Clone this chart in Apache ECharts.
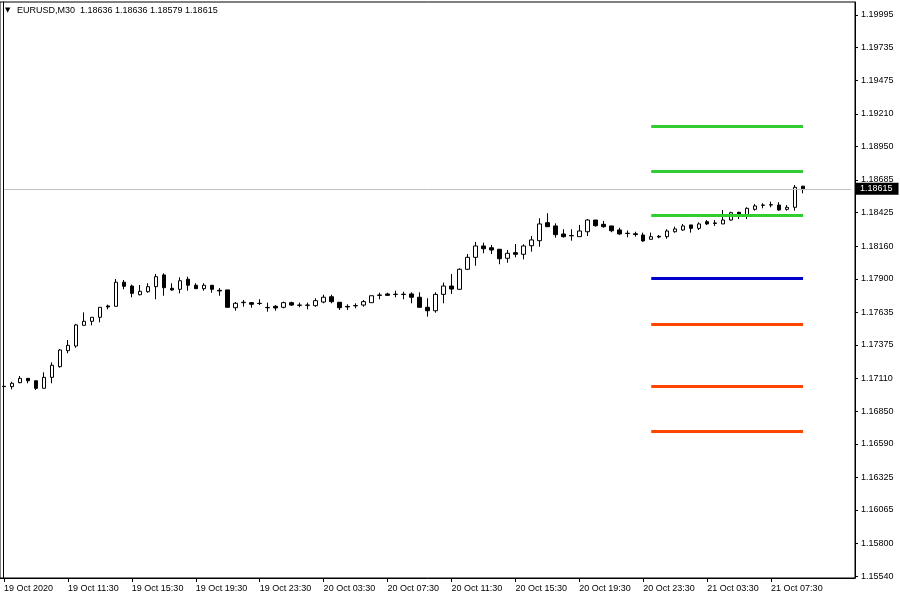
<!DOCTYPE html>
<html><head><meta charset="utf-8">
<script src="https://cdn.jsdelivr.net/npm/echarts@6/dist/echarts.min.js"></script>
<style>html,body{margin:0;padding:0;background:#fff}#c{width:900px;height:600px}</style>
</head><body><div id="c"></div>
<script>
const symbolName = 'EURUSD,M30';
const openP = [1.17047,1.17044,1.17076,1.17110,1.17091,1.17031,1.17118,1.17203,1.17330,1.17367,
1.17531,1.17563,1.17595,1.17685,1.17682,1.17873,1.17843,1.17774,1.17798,1.17838,
1.17931,1.17825,1.17817,1.17897,1.17849,1.17822,1.17849,1.17809,1.17812,1.17671,
1.17711,1.17711,1.17706,1.17673,1.17682,1.17674,1.17711,1.17692,1.17690,1.17687,
1.17716,1.17758,1.17714,1.17681,1.17688,1.17692,1.17711,1.17772,1.17780,1.17778,
1.17778,1.17780,1.17754,1.17674,1.17647,1.17777,1.17843,1.17817,1.17976,1.18071,
1.18161,1.18147,1.18135,1.18063,1.18108,1.18095,1.18163,1.18203,1.18346,1.18320,
1.18256,1.18244,1.18235,1.18274,1.18367,1.18333,1.18320,1.18288,1.18262,1.18258,
1.18248,1.18214,1.18238,1.18235,1.18274,1.18288,1.18328,1.18301,1.18354,1.18344,
1.18336,1.18367,1.18428,1.18401,1.18452,1.18486,1.18486,1.18486,1.18452,1.18468,
1.18636];
const highP = [1.17061,1.17083,1.17129,1.17110,1.17091,1.17158,1.17237,1.17343,1.17415,1.17542,
1.17634,1.17595,1.17674,1.17695,1.17899,1.17891,1.17854,1.17851,1.17865,1.17939,
1.17944,1.17865,1.17912,1.17917,1.17865,1.17865,1.17849,1.17827,1.17812,1.17716,
1.17732,1.17716,1.17738,1.17711,1.17692,1.17719,1.17719,1.17711,1.17711,1.17746,
1.17774,1.17774,1.17714,1.17698,1.17706,1.17732,1.17766,1.17790,1.17790,1.17806,
1.17798,1.17793,1.17793,1.17746,1.17793,1.17870,1.17939,1.17984,1.18097,1.18193,
1.18187,1.18169,1.18135,1.18129,1.18177,1.18174,1.18240,1.18381,1.18421,1.18341,
1.18294,1.18294,1.18328,1.18375,1.18367,1.18359,1.18320,1.18306,1.18284,1.18274,
1.18267,1.18267,1.18248,1.18294,1.18314,1.18336,1.18328,1.18349,1.18367,1.18367,
1.18447,1.18433,1.18433,1.18468,1.18494,1.18500,1.18513,1.18508,1.18486,1.18645,
1.18636];
const lowP = [1.17033,1.17023,1.17071,1.17071,1.17018,1.17031,1.17071,1.17195,1.17309,1.17353,
1.17531,1.17531,1.17555,1.17658,1.17682,1.17817,1.17754,1.17769,1.17790,1.17738,
1.17766,1.17806,1.17785,1.17806,1.17822,1.17806,1.17790,1.17766,1.17674,1.17647,
1.17679,1.17671,1.17692,1.17639,1.17647,1.17666,1.17685,1.17674,1.17658,1.17679,
1.17706,1.17706,1.17653,1.17653,1.17666,1.17679,1.17711,1.17738,1.17764,1.17754,
1.17738,1.17706,1.17674,1.17600,1.17631,1.17706,1.17780,1.17812,1.17970,1.18004,
1.18103,1.18097,1.18016,1.18028,1.18071,1.18055,1.18116,1.18155,1.18314,1.18227,
1.18227,1.18203,1.18235,1.18240,1.18314,1.18306,1.18270,1.18251,1.18230,1.18235,
1.18195,1.18214,1.18222,1.18219,1.18267,1.18282,1.18267,1.18288,1.18328,1.18320,
1.18336,1.18362,1.18375,1.18375,1.18441,1.18460,1.18468,1.18441,1.18441,1.18441,
1.18579];
const closeP = [1.17044,1.17071,1.17110,1.17091,1.17031,1.17118,1.17214,1.17335,1.17372,1.17534,
1.17563,1.17595,1.17674,1.17677,1.17873,1.17841,1.17785,1.17801,1.17838,1.17917,
1.17830,1.17812,1.17885,1.17849,1.17822,1.17849,1.17817,1.17804,1.17674,1.17706,
1.17714,1.17698,1.17704,1.17671,1.17669,1.17711,1.17692,1.17690,1.17692,1.17727,
1.17754,1.17719,1.17671,1.17677,1.17686,1.17719,1.17766,1.17769,1.17769,1.17776,
1.17776,1.17754,1.17674,1.17647,1.17777,1.17843,1.17819,1.17976,1.18071,1.18161,
1.18139,1.18129,1.18060,1.18103,1.18095,1.18161,1.18209,1.18336,1.18314,1.18251,
1.18235,1.18242,1.18280,1.18367,1.18322,1.18314,1.18282,1.18256,1.18260,1.18252,
1.18201,1.18235,1.18232,1.18280,1.18296,1.18320,1.18301,1.18336,1.18336,1.18340,
1.18367,1.18425,1.18401,1.18460,1.18479,1.18484,1.18489,1.18447,1.18468,1.18627,
1.18615];
const tickLabels = ['19 Oct 2020','19 Oct 11:30','19 Oct 15:30','19 Oct 19:30','19 Oct 23:30',
  '20 Oct 03:30','20 Oct 07:30','20 Oct 11:30','20 Oct 15:30','20 Oct 19:30','20 Oct 23:30',
  '21 Oct 03:30','21 Oct 07:30'];
const priceTicks = [1.15540,1.15800,1.16065,1.16325,1.16590,1.16850,1.17110,1.17375,1.17635,
  1.17900,1.18160,1.18425,1.18685,1.18950,1.19210,1.19475,1.19735,1.19995];
const pivotLevels = [1.19114,1.18754,1.18401,1.17907,1.17542,1.17049,1.16692];
const pivotStart = '21 Oct 00:00';

// time categories (30-minute bars) incl. empty right margin slots
const months = ['Jan','Feb','Mar','Apr','May','Jun','Jul','Aug','Sep','Oct','Nov','Dec'];
const categories = [];
const t0 = Date.UTC(2020, 9, 19, 7, 30);
for (let i = 0; i < 107; i++) {
  const d = new Date(t0 + i * 1800000);
  categories.push(d.getUTCDate() + ' ' + months[d.getUTCMonth()] + ' ' +
    String(d.getUTCHours()).padStart(2,'0') + ':' + String(d.getUTCMinutes()).padStart(2,'0'));
}
const candles = openP.map((o, i) => [o, closeP[i], lowP[i], highP[i]]);
const last = openP.length - 1;
const lastPrice = closeP[last];
const titleText = symbolName + '  ' + [openP[last], highP[last], lowP[last], closeP[last]].map(v => v.toFixed(5)).join(' ');

const pivotColors = ['#32CD32','#32CD32','#32CD32','#0000CD','#FF4500','#FF4500','#FF4500'];
const FONT = 'Liberation Sans';
const everyEight = (idx) => idx % 8 === 0 && idx <= last;

const chart = echarts.init(document.getElementById('c'), null, {renderer: 'canvas'});
chart.setOption({
  animation: false,
  backgroundColor: '#fff',
  title: {
    text: '{tri|▼}' + titleText,
    left: 5, top: 6, padding: 0,
    textStyle: {
      fontFamily: FONT, fontSize: 9, fontWeight: 'normal', color: '#000',
      rich: { tri: { fontSize: 7, width: 12, color: '#000', fontFamily: 'DejaVu Sans' } }
    }
  },
  grid: { left: -1, top: 2, width: 856, height: 576, show: true, borderColor: '#000', borderWidth: 1, backgroundColor: '#fff' },
  xAxis: {
    type: 'category', data: categories, boundaryGap: true,
    axisLine: { show: true, lineStyle: { color: '#000', width: 1 } },
    axisTick: { show: true, alignWithLabel: true, interval: everyEight, length: 4, lineStyle: { color: '#000' } },
    axisLabel: {
      interval: everyEight, align: 'left', margin: 6,
      fontFamily: FONT, fontSize: 9, color: '#000',
      formatter: (v, idx) => tickLabels[idx / 8]
    },
    splitLine: { show: false }
  },
  yAxis: [{
    type: 'value', position: 'right', min: 1.15525, max: 1.20098, scale: true,
    axisLine: { show: true, onZero: false, lineStyle: { color: '#000', width: 1 } },
    axisTick: { show: true, length: 3, customValues: priceTicks, lineStyle: { color: '#000' } },
    axisLabel: { customValues: priceTicks, margin: 6, fontFamily: FONT, fontSize: 9, color: '#000',
      formatter: v => v.toFixed(5) },
    splitLine: { show: false }
  }, {
    type: 'value', position: 'left', offset: -3, min: 1.15525, max: 1.20098,
    axisLine: { show: true, onZero: false, lineStyle: { color: '#000', width: 1 } },
    axisTick: { show: false }, axisLabel: { show: false }, splitLine: { show: false }
  }],
  series: [{
    type: 'line', data: [], silent: true, yAxisIndex: 0, z: 1,
    markLine: {
      silent: true, symbol: 'none', animation: false,
      lineStyle: { color: '#c0c0c0', width: 1, type: 'solid' },
      label: {
        show: true, position: 'end', distance: 4,
        formatter: () => lastPrice.toFixed(5),
        backgroundColor: '#000', color: '#fff', fontFamily: FONT, fontSize: 9,
        padding: [2, 6, 1, 5]
      },
      data: [[ { coord: [categories[0], lastPrice] }, { coord: [categories[categories.length - 1], lastPrice] } ]]
    }
  }, {
    type: 'candlestick',
    data: candles, yAxisIndex: 0, z: 2,
    barWidth: 4,
    itemStyle: { color: '#fff', color0: '#000', borderColor: '#000', borderColor0: '#000', borderWidth: 1 }
  }, {
    type: 'line', data: [], silent: true, yAxisIndex: 0,
    markLine: {
      silent: true, symbol: 'none', animation: false,
      label: { show: false },
      data: pivotLevels.map((lv, k) => [
        { coord: [pivotStart, lv], lineStyle: { color: pivotColors[k], width: 3, type: 'solid' } },
        { coord: [categories[last], lv] }
      ])
    },
    z: 5
  }]
});
</script>
</body></html>
